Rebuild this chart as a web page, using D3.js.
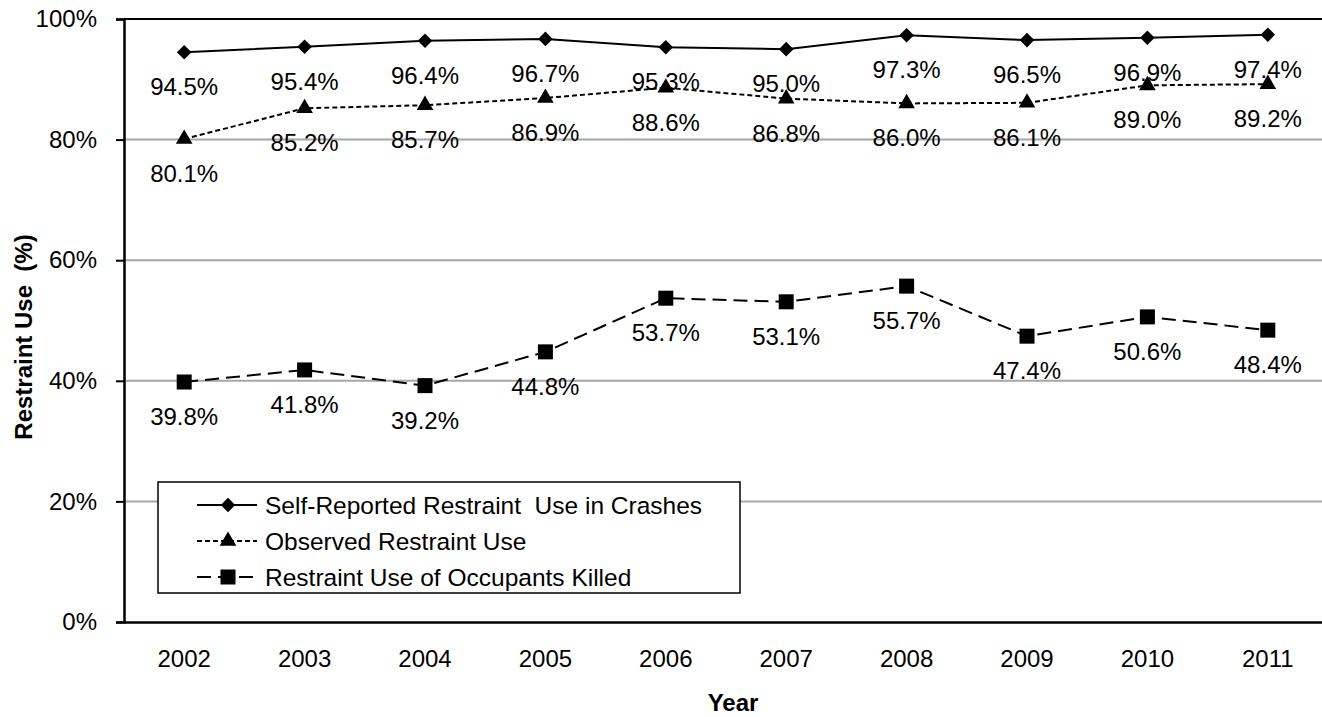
<!DOCTYPE html>
<html>
<head>
<meta charset="utf-8">
<script src="https://cdn.jsdelivr.net/npm/d3@7"></script>
<style>
  body { margin: 0; background: #fff; }
  svg { display: block; font-family: "Liberation Sans", Arial, sans-serif; }
</style>
</head>
<body>
<div id="chart"></div>
<script>
const years = ["2002", "2003", "2004", "2005", "2006", "2007", "2008", "2009", "2010", "2011"];
const selfReported = [94.5, 95.4, 96.4, 96.7, 95.3, 95.0, 97.3, 96.5, 96.9, 97.4];
const observed = [80.1, 85.2, 85.7, 86.9, 88.6, 86.8, 86.0, 86.1, 89.0, 89.2];
const killed = [39.8, 41.8, 39.2, 44.8, 53.7, 53.1, 55.7, 47.4, 50.6, 48.4];
const yTicks = [0, 20, 40, 60, 80, 100];

const series = [
    { name: "Self-Reported Restraint  Use in Crashes", values: selfReported, dash: null, marker: d3.symbolDiamond2, size: 135 },
    { name: "Observed Restraint Use", values: observed, dash: "5,3", marker: d3.symbolTriangle, size: 120 },
    { name: "Restraint Use of Occupants Killed", values: killed, dash: "14,7", marker: d3.symbolSquare, size: 225 }
];

const width = 1322, height = 717;
const margin = { top: 19, left: 124, bottom: 95 };

const svg = d3.select("#chart").append("svg")
    .attr("width", width)
    .attr("height", height);

const x = d3.scaleBand()
    .domain(years)
    .range([margin.left, 1328]);

const y = d3.scaleLinear()
    .domain([0, 100])
    .range([height - margin.bottom, margin.top]);

const cx = d => x(d) + x.bandwidth() / 2;

// gridlines
svg.append("g")
    .selectAll("line")
    .data(yTicks.filter(t => t > 0 && t < 100))
    .join("line")
    .attr("x1", margin.left)
    .attr("x2", width)
    .attr("y1", d => y(d))
    .attr("y2", d => y(d))
    .attr("stroke", "#a6a6a6")
    .attr("stroke-width", 2);

// top border
svg.append("line")
    .attr("x1", margin.left).attr("x2", width)
    .attr("y1", y(100)).attr("y2", y(100))
    .attr("stroke", "#000").attr("stroke-width", 2);

// y axis
const yAxis = svg.append("g")
    .attr("transform", `translate(${margin.left},0)`)
    .call(d3.axisLeft(y).tickValues(yTicks).tickFormat(d => d + "%").tickSize(8).tickPadding(19));
yAxis.select(".domain").attr("stroke-width", 2.5);
yAxis.selectAll(".tick line").attr("stroke-width", 2);
yAxis.selectAll("text").style("font-size", "24px").attr("fill", "#000");

// x axis
const xAxis = svg.append("g")
    .attr("transform", `translate(0,${y(0)})`)
    .call(d3.axisBottom(x).tickSize(0).tickPadding(28));
xAxis.select(".domain").attr("stroke-width", 2.5);
xAxis.selectAll("text").style("font-size", "24px").attr("fill", "#000");

// axis titles
svg.append("text")
    .attr("x", 733)
    .attr("y", 711)
    .attr("text-anchor", "middle")
    .style("font-size", "24px")
    .style("font-weight", "bold")
    .text("Year");

svg.append("text")
    .attr("transform", "translate(32,337) rotate(-90)")
    .attr("text-anchor", "middle")
    .style("font-size", "24px")
    .style("font-weight", "bold")
    .style("white-space", "pre")
    .text("Restraint Use  (%)");

// lines, markers, labels
const line = d3.line()
    .x((d, i) => cx(years[i]))
    .y(d => y(d));

series.forEach(s => {
    const g = svg.append("g");
    g.append("path")
        .datum(s.values)
        .attr("d", line)
        .attr("fill", "none")
        .attr("stroke", "#000")
        .attr("stroke-width", 2)
        .attr("stroke-dasharray", s.dash);

    g.selectAll("path.mark")
        .data(s.values)
        .join("path")
        .attr("class", "mark")
        .attr("transform", (d, i) => `translate(${cx(years[i])},${y(d)})`)
        .attr("d", d3.symbol(s.marker, s.size));

    g.selectAll("text")
        .data(s.values)
        .join("text")
        .attr("x", (d, i) => cx(years[i]))
        .attr("y", d => y(d) + 43)
        .attr("text-anchor", "middle")
        .style("font-size", "24px")
        .text(d => d.toFixed(1) + "%");
});

// legend
const legend = svg.append("g").attr("transform", "translate(158,482)");
legend.append("rect")
    .attr("width", 582)
    .attr("height", 111)
    .attr("fill", "#fff")
    .attr("stroke", "#000")
    .attr("stroke-width", 1.5);

series.forEach((s, i) => {
    const row = legend.append("g").attr("transform", `translate(0,${23 + i * 36})`);
    row.append("line")
        .attr("x1", 39).attr("x2", 99)
        .attr("stroke", "#000")
        .attr("stroke-width", 2)
        .attr("stroke-dasharray", s.dash);
    row.append("path")
        .attr("transform", "translate(70,0)")
        .attr("d", d3.symbol(s.marker, s.size));
    row.append("text")
        .attr("x", 107)
        .attr("y", 8.5)
        .style("font-size", "24.5px")
        .style("white-space", "pre")
        .text(s.name);
});
</script>
</body>
</html>
